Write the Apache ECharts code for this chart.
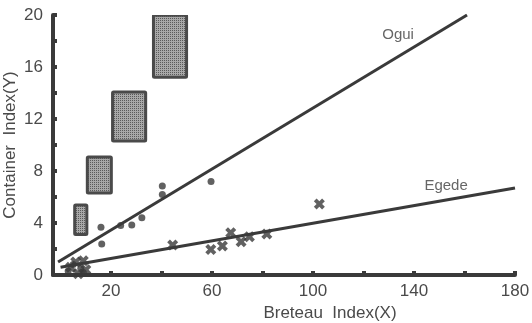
<!DOCTYPE html>
<html>
<head>
<meta charset="utf-8">
<script src="https://cdn.jsdelivr.net/npm/echarts@6/dist/echarts.min.js"></script>
<style>
  html, body { margin: 0; padding: 0; background: #fff; }
  #chart { width: 532px; height: 323px; }
</style>
</head>
<body>
<div id="chart"></div>
<script>
// Breteau index vs container index
var xTicks = [20, 40, 60, 80, 100, 120, 140, 160, 180];
var xLabels = [20, 60, 100, 140, 180];
var yLabels = [0, 4, 8, 12, 16, 20];

// shaded boxes: [x0, x1, y0, y1]
var boxes = [
  [5, 11, 3, 5.5],
  [10, 20.7, 6.2, 9.2],
  [20, 34.3, 10.2, 14.2],
  [36.2, 50.5, 15.1, 20.1]
];

// Ogui points (dots)
var oguiPts = [
  [3, 0.3], [5, 0.8], [8, 0.5], [9, 0.2],
  [16, 3.67], [16.3, 2.38], [23.8, 3.8], [28.2, 3.85], [32.2, 4.4],
  [40.3, 6.85], [40.3, 6.2], [59.6, 7.2]
];
// Egede points (crosses)
var egedePts = [
  [4, 0.6], [6, 1.0], [9, 1.1], [10, 0.4], [7, 0.1],
  [44.4, 2.3], [59.5, 1.97], [64.1, 2.23], [67.4, 3.25], [71.5, 2.56],
  [74.8, 2.95], [81.7, 3.15], [102.5, 5.46]
];

// regression lines
var oguiLine = [[-1, 1.0], [161, 20]];
var egedeLine = [[0, 0.6], [180, 6.7]];

// line names placed near the lines
var lineNames = [
  { name: 'Ogui', value: [133.7, 18.5] },
  { name: 'Egede', value: [152.7, 6.85] }
];

var ink = '#3a3a3a';
var textColor = '#4a4a4a';
var font = 'Liberation Sans';

// dotted grey fill for the boxes
var pat = document.createElement('canvas');
pat.width = 2; pat.height = 2;
var pctx = pat.getContext('2d');
pctx.fillStyle = '#a8a8a8'; pctx.fillRect(0, 0, 2, 2);
pctx.fillStyle = '#5a5a5a'; pctx.fillRect(0, 0, 1, 1);

var crossPath = 'path://M2.5,0 L5,2.5 L7.5,0 L10,2.5 L7.5,5 L10,7.5 L7.5,10 L5,7.5 L2.5,10 L0,7.5 L2.5,5 L0,2.5 Z';

var chart = echarts.init(document.getElementById('chart'), null, { renderer: 'canvas' });

var option = {
  backgroundColor: '#fff',
  animation: false,
  grid: { left: 53, right: 17, top: 15, bottom: 48, containLabel: false, outerBoundsMode: 'none' },
  xAxis: {
    type: 'value',
    min: -3,
    max: 180,
    name: 'Breteau  Index(X)',
    nameLocation: 'middle',
    nameGap: 27,
    nameTextStyle: { color: textColor, fontFamily: font, fontSize: 17, padding: [0, 0, 0, 92] },
    splitLine: { show: false },
    axisLine: { show: true, onZero: false, lineStyle: { color: ink, width: 4 } },
    axisTick: { show: true, inside: true, length: 4, customValues: xTicks, lineStyle: { color: ink, width: 4 } },
    axisLabel: { customValues: xLabels, color: textColor, fontFamily: font, fontSize: 17, margin: 8 }
  },
  yAxis: {
    type: 'value',
    min: 0,
    max: 20,
    interval: 2,
    name: 'Container  Index(Y)',
    nameLocation: 'middle',
    nameMoveOverlap: false,
    nameGap: 34,
    nameTextStyle: { color: textColor, fontFamily: font, fontSize: 17 },
    splitLine: { show: false },
    axisLine: { show: true, onZero: false, lineStyle: { color: ink, width: 4 } },
    axisTick: { show: true, inside: true, length: 4, lineStyle: { color: ink, width: 4 } },
    axisLabel: { customValues: yLabels, color: textColor, fontFamily: font, fontSize: 17, margin: 10 }
  },
  series: [
    {
      type: 'custom',
      name: 'boxes',
      clip: true,
      renderItem: function (params, api) {
        var p0 = api.coord([api.value(0), api.value(3)]);
        var p1 = api.coord([api.value(1), api.value(2)]);
        return {
          type: 'rect',
          shape: { x: p0[0] + 1.5, y: p0[1] + 1.5, width: p1[0] - p0[0] - 3, height: p1[1] - p0[1] - 3, r: 1 },
          style: { fill: { image: pat, repeat: 'repeat' }, stroke: '#4a4a4a', lineWidth: 3 }
        };
      },
      data: boxes
    },
    {
      type: 'line',
      name: 'Ogui',
      data: oguiLine,
      symbol: 'none',
      lineStyle: { color: ink, width: 3 }
    },
    {
      type: 'line',
      name: 'Egede',
      data: egedeLine,
      symbol: 'none',
      lineStyle: { color: ink, width: 3 }
    },
    {
      type: 'scatter',
      name: 'Ogui data',
      data: oguiPts,
      symbol: 'circle',
      symbolSize: 7,
      itemStyle: { color: ink }
    },
    {
      type: 'scatter',
      name: 'Egede data',
      data: egedePts,
      symbol: crossPath,
      symbolSize: 11,
      itemStyle: { color: ink }
    },
    {
      type: 'scatter',
      name: 'labels',
      data: lineNames,
      symbolSize: 0,
      label: {
        show: true,
        position: 'inside',
        formatter: '{b}',
        color: '#404040',
        fontFamily: font,
        fontSize: 15
      }
    }
  ]
};

chart.setOption(option);
</script>
</body>
</html>
